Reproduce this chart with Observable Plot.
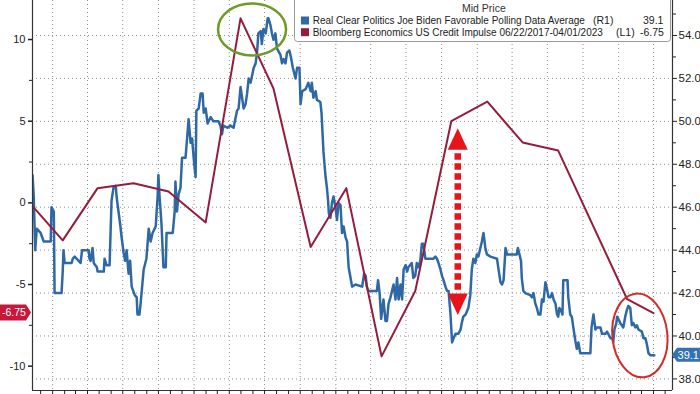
<!DOCTYPE html>
<html>
<head>
<meta charset="utf-8">
<script src="https://cdn.jsdelivr.net/npm/d3@7"></script>
<script src="https://cdn.jsdelivr.net/npm/@observablehq/plot@0.6"></script>
<style>
  body { margin: 0; background: #fff; }
  #chart { width: 700px; height: 394px; overflow: hidden; }
</style>
</head>
<body>
<div id="chart"></div>
<script>
// ---------------- DATA ----------------
// Real Clear Politics Joe Biden Favorable Polling Data Average (right axis, R1)
const bidenDates = [
"2018-11-10","2018-11-13","2018-11-17","2018-11-21","2018-12-01","2018-12-09","2018-12-27","2018-12-29",
"2019-01-04","2019-01-06","2019-01-24","2019-01-27","2019-01-29","2019-02-01","2019-02-19","2019-02-22",
"2019-02-27","2019-03-14","2019-03-18","2019-04-04","2019-04-06","2019-04-09","2019-04-14","2019-04-17",
"2019-04-25","2019-04-27","2019-05-13","2019-05-15","2019-05-20","2019-05-28","2019-05-31","2019-06-02",
"2019-06-07","2019-06-13","2019-06-15","2019-06-20","2019-06-25","2019-06-28","2019-07-03","2019-07-07",
"2019-07-11","2019-07-16","2019-07-20","2019-07-24","2019-08-01","2019-08-06","2019-08-08","2019-08-13",
"2019-08-16","2019-08-19","2019-08-24","2019-08-31","2019-09-06","2019-09-11","2019-09-16","2019-09-24",
"2019-09-29","2019-10-01","2019-10-04","2019-10-09","2019-10-14","2019-10-20","2019-10-22","2019-11-07",
"2019-11-12","2019-11-14","2019-11-18","2019-11-22","2019-11-27","2019-12-01","2019-12-10","2019-12-14",
"2019-12-18","2019-12-23","2019-12-27","2019-12-31","2020-01-05","2020-01-07","2020-01-13","2020-01-18",
"2020-01-23","2020-01-26","2020-01-31","2020-02-05","2020-02-13","2020-02-20","2020-03-04","2020-03-09",
"2020-03-13","2020-03-17","2020-03-27","2020-04-04","2020-04-12","2020-04-21","2020-04-25","2020-04-30",
"2020-05-04","2020-05-08","2020-05-13","2020-05-17","2020-05-21","2020-05-26","2020-06-03","2020-06-08",
"2020-06-12","2020-06-15","2020-06-21","2020-06-24","2020-06-28","2020-07-04","2020-07-09","2020-07-11",
"2020-07-16","2020-07-20","2020-07-24","2020-07-29","2020-08-02","2020-08-11","2020-08-15","2020-08-19",
"2020-08-24","2020-08-28","2020-09-03","2020-09-07","2020-09-12","2020-09-19","2020-09-23","2020-09-29",
"2020-10-02","2020-10-06","2020-10-15","2020-10-22","2020-10-28","2020-10-31","2020-11-04","2020-11-10",
"2020-11-13","2020-11-22","2020-11-25","2020-11-30","2020-12-05","2020-12-09","2020-12-12","2020-12-14",
"2020-12-18","2020-12-22","2020-12-26","2020-12-31","2021-01-04","2021-01-08","2021-01-13","2021-01-17",
"2021-01-21","2021-01-26","2021-01-30","2021-02-03","2021-02-08","2021-02-12","2021-02-21","2021-03-10",
"2021-03-15","2021-03-19","2021-03-22","2021-03-26","2021-04-17","2021-04-20","2021-04-24","2021-04-28",
"2021-05-04","2021-05-09","2021-05-13","2021-05-17","2021-05-22","2021-05-26","2021-05-30","2021-06-04",
"2021-06-08","2021-06-12","2021-06-17","2021-06-21","2021-06-25","2021-06-30","2021-07-04","2021-07-07",
"2021-07-16","2021-07-20","2021-07-25","2021-07-29","2021-08-02","2021-08-07","2021-08-11","2021-08-15",
"2021-08-20","2021-09-10","2021-09-15","2021-09-19","2021-09-23","2021-09-28","2021-10-02","2021-10-06",
"2021-10-11","2021-10-15","2021-10-19","2021-10-24","2021-10-28","2021-11-01","2021-11-06","2021-11-13",
"2021-11-19","2021-11-22","2021-11-26","2021-12-02","2021-12-09","2021-12-14","2021-12-18","2021-12-22",
"2021-12-27","2021-12-31","2022-01-04","2022-01-09","2022-01-13","2022-01-17","2022-01-22","2022-01-26",
"2022-02-04","2022-02-21","2022-02-25","2022-03-02","2022-03-06","2022-03-10","2022-03-15","2022-03-19",
"2022-04-13","2022-04-16","2022-04-20","2022-04-24","2022-04-26","2022-04-30","2022-05-05","2022-05-18",
"2022-05-22","2022-05-26","2022-05-31","2022-06-04","2022-06-08","2022-06-13","2022-06-17","2022-06-21",
"2022-06-26","2022-06-30","2022-07-04","2022-07-09","2022-07-13","2022-07-17","2022-07-22","2022-07-26",
"2022-07-29","2022-08-01","2022-08-05","2022-08-09","2022-08-11","2022-08-22","2022-08-24","2022-08-29",
"2022-09-02","2022-09-06","2022-09-11","2022-09-15","2022-09-19","2022-09-24","2022-10-20","2022-10-23",
"2022-10-28","2022-11-02","2022-11-06","2022-11-15","2022-11-19","2022-11-28","2022-12-02","2022-12-05",
"2022-12-11","2022-12-16","2022-12-18","2022-12-21","2022-12-26","2022-12-28","2022-12-31","2023-01-05",
"2023-01-09","2023-01-13","2023-01-18","2023-01-22","2023-01-26","2023-01-31","2023-02-04","2023-02-08",
"2023-02-13","2023-02-17","2023-02-21","2023-03-02","2023-03-06","2023-03-11","2023-03-15","2023-03-19",
"2023-03-24","2023-04-03"
];
const bidenFav = [
47.5,46.6,44.0,45.0,44.8,44.4,44.4,46.0,
45.8,42.0,42.0,43.0,44.0,43.4,43.4,43.6,
43.7,43.4,44.0,44.0,43.6,43.5,44.1,43.4,
43.2,43.0,43.0,43.6,43.3,43.3,45.1,46.3,
46.9,47.0,46.5,45.8,45.1,44.6,43.9,43.5,
44.0,42.9,43.5,42.3,41.9,41.8,41.0,41.0,
41.5,42.1,43.1,43.6,45.0,44.4,44.8,45.1,
46.5,47.5,46.5,45.2,43.2,43.2,44.8,44.8,
45.8,47.2,45.8,46.6,46.9,48.3,48.3,49.2,
50.1,49.0,49.2,48.3,47.4,50.5,50.6,51.3,
51.3,50.4,50.6,49.9,50.2,50.0,50.0,49.8,
49.4,49.8,49.7,49.8,49.7,50.5,50.6,51.6,
51.1,50.6,50.8,51.3,52.0,51.8,52.5,52.7,
53.3,54.1,54.2,53.6,54.3,54.1,54.8,54.8,
54.5,54.1,53.8,54.1,53.4,53.1,52.7,52.9,
52.7,53.2,53.3,53.0,52.5,52.0,52.5,52.5,
50.8,51.4,51.5,51.8,51.4,51.8,51.1,51.4,
51.0,50.9,50.4,48.6,47.5,46.9,46.3,45.7,
45.5,46.2,46.5,46.0,45.4,46.2,46.1,44.8,
45.1,44.6,44.4,43.2,42.7,42.3,42.4,42.3,
42.9,42.8,42.3,42.1,42.1,42.6,42.0,40.8,
41.7,40.7,40.7,41.5,41.8,42.1,42.4,41.7,
42.7,41.7,42.4,41.7,43.1,43.3,43.0,43.2,
43.4,42.7,42.8,43.4,43.2,43.5,44.3,44.3,
43.6,43.6,43.7,43.6,43.4,43.1,42.8,42.6,
42.3,42.1,42.1,41.0,39.7,39.9,40.1,40.1,
40.3,40.6,40.9,41.0,41.3,41.9,43.1,43.6,
43.4,43.8,43.7,44.1,44.4,44.8,44.1,43.8,
43.7,43.6,43.1,42.5,42.4,42.6,44.1,43.8,
43.8,44.1,43.8,43.5,42.7,42.1,42.0,41.9,
41.8,42.0,41.5,41.3,41.0,41.0,41.7,41.6,
42.5,42.2,41.8,41.8,42.0,41.7,41.5,41.0,
40.9,41.3,41.2,41.0,42.6,42.6,41.8,41.0,
40.9,40.4,39.8,39.4,39.7,39.2,39.2,40.4,
41.0,40.3,40.4,40.4,40.1,40.1,40.2,40.1,
39.9,39.9,39.7,40.3,40.6,40.9,40.8,40.6,
40.5,40.4,40.9,41.2,41.4,41.3,40.5,40.6,
40.4,40.5,40.3,40.2,39.9,39.9,39.6,39.2,
39.1,39.1
];

// Bloomberg Economics US Credit Impulse (left axis, L1)
const impulseDates = [
"2018-11-10","2019-01-27","2019-04-27","2019-07-29","2019-10-27","2020-01-31",
"2020-04-30","2020-07-24","2020-10-28","2021-01-28","2021-04-29","2021-07-25",
"2021-10-26","2022-01-27","2022-04-28","2022-07-29","2023-01-23","2023-04-01"
];
const impulseValues = [
-0.2,-2.3,0.9,1.2,0.7,-1.2,
11.3,7.0,-2.7,0.9,-9.4,-5.4,
5.0,6.2,3.7,3.2,-5.9,-6.75
];

// Axes
const leftTicks = [-10, -5, 0, 5, 10];
const leftMinorTicks = [-7.5, -2.5, 2.5, 7.5];
const rightTicks = [38, 40, 42, 44, 46, 48, 50, 52, 54];
const rightMinorTicks = [39, 41, 43, 45, 47, 49, 51, 53, 55];
const leftDomain = [-11.49, 12.39];
const rightDomain = [37.46, 55.63];
const xDomain = [new Date("2018-11-10"), new Date("2023-05-20")];

// Legend
const legendHeader = "Mid Price";
const seriesNames = [
  "Real Clear Politics Joe Biden Favorable Polling Data Average",
  "Bloomberg Economics US Credit Impulse 06/22/2017-04/01/2023"
];
const seriesAxes = ["(R1)", "(L1)"];
const lastValues = [39.1, -6.75];

// Annotations (in data units)
const greenRing = { date: "2020-05-31", fav: 54.26 };
const redRing = { date: "2023-02-26", fav: 40.0 };
const arrowMark = { date: "2021-11-13", top: 4.53, bottom: -6.9 };

// ---------------- STYLE ----------------
const BLUE = "#2e69a6";
const MAROON = "#961c3e";
const W = 700, H = 394, mL = 32, mR = 28, mT = 0, mB = 4;
const FONT = "'Liberation Sans', Arial, sans-serif";

// ---------------- BUILD ----------------
const toLeft = d3.scaleLinear(rightDomain, leftDomain);
const biden = bidenDates.map((d, i) => ({ date: new Date(d), value: toLeft(bidenFav[i]) }));
const impulse = impulseDates.map((d, i) => ({ date: new Date(d), value: impulseValues[i] }));
const quarters = d3.utcMonth.every(3).range(xDomain[0], xDomain[1]);
const months = d3.utcMonth.range(xDomain[0], xDomain[1]);

const gridStyle = { stroke: "#8f8f8f", strokeOpacity: 1, strokeWidth: 1, strokeDasharray: "1,3" };

const plot = Plot.plot({
  width: W, height: H,
  marginLeft: mL, marginRight: mR, marginTop: mT, marginBottom: mB,
  style: { fontFamily: FONT, fontSize: "11px", color: "#222", background: "#fff", overflow: "visible" },
  x: { type: "utc", domain: xDomain, axis: null },
  y: { domain: leftDomain, axis: null },
  marks: [
    Plot.gridY(rightTicks.map(toLeft), gridStyle),
    Plot.gridX(quarters, gridStyle),
    Plot.line(biden, { x: "date", y: "value", stroke: BLUE, strokeWidth: 2.5, clip: true }),
    Plot.line(impulse, { x: "date", y: "value", stroke: MAROON, strokeWidth: 2, clip: true }),
    Plot.ruleX([xDomain[0], xDomain[1]], { stroke: "#333", strokeWidth: 1.2 }),
    Plot.ruleY([leftDomain[0]], { stroke: "#333", strokeWidth: 1.2 }),
    Plot.axisY(leftTicks, { anchor: "left", tickSize: 4, tickPadding: 3, tickFormat: d => String(d), fontSize: 11, label: null, strokeWidth: 1.5 }),
    Plot.axisY(leftMinorTicks, { anchor: "left", tickSize: 3, tickFormat: () => "", label: null }),
    Plot.axisY(rightTicks.map(toLeft), { anchor: "right", tickSize: 4, tickPadding: 2, tickFormat: v => toLeft.invert(v).toFixed(1), fontSize: 11.5, label: null }),
    Plot.axisY(rightMinorTicks.map(toLeft), { anchor: "right", tickSize: 3, tickFormat: () => "", label: null }),
    Plot.axisX(months, { anchor: "bottom", tickSize: 4, tickFormat: () => "", label: null })
  ]
});

document.getElementById("chart").appendChild(plot);

// scales mirroring the plot's
const xS = d3.scaleUtc(xDomain, [mL, W - mR]);
const yS = d3.scaleLinear(leftDomain, [H - mB, mT]);
const svg = d3.select(plot);
const ann = svg.append("g");

// green ring around peak
ann.append("ellipse")
  .attr("cx", xS(new Date(greenRing.date))).attr("cy", yS(toLeft(greenRing.fav)))
  .attr("rx", 34).attr("ry", 26)
  .attr("fill", "none").attr("stroke", "#6f9a28").attr("stroke-width", 2.5);

// red ring around latest values
const rcx = xS(new Date(redRing.date)), rcy = yS(toLeft(redRing.fav));
ann.append("ellipse")
  .attr("cx", rcx).attr("cy", rcy).attr("rx", 27.5).attr("ry", 42)
  .attr("transform", `rotate(-6 ${rcx} ${rcy})`)
  .attr("fill", "none").attr("stroke", "#d42a2a").attr("stroke-width", 2);

// red dotted double arrow
const ax = xS(new Date(arrowMark.date));
const yTop = yS(arrowMark.top), yBot = yS(arrowMark.bottom);
const RED = "#e8141c";
ann.append("path").attr("d", `M${ax},${yTop} L${ax - 10},${yTop + 21.5} L${ax + 10},${yTop + 21.5} Z`).attr("fill", RED);
ann.append("path").attr("d", `M${ax},${yBot} L${ax - 10},${yBot - 21.5} L${ax + 10},${yBot - 21.5} Z`).attr("fill", RED);
ann.append("line")
  .attr("x1", ax).attr("x2", ax).attr("y1", yTop + 25).attr("y2", yBot - 23)
  .attr("stroke", RED).attr("stroke-width", 6.5).attr("stroke-dasharray", "6.5,3.5");

// last value tags
const tagL = yS(lastValues[1]);
ann.append("path")
  .attr("d", `M0,${tagL - 8} L26,${tagL - 8} L31,${tagL} L26,${tagL + 8} L0,${tagL + 8} Z`)
  .attr("fill", "#c8173a");
ann.append("text").attr("x", 14).attr("y", tagL + 3.8).attr("text-anchor", "middle")
  .attr("fill", "#fff").attr("font-size", 10.5).attr("font-family", FONT).text(String(lastValues[1]));

const tagR = yS(toLeft(lastValues[0]));
ann.append("path")
  .attr("d", `M${W - mR},${tagR} L${W - mR + 5},${tagR - 7} L${W},${tagR - 7} L${W},${tagR + 7} L${W - mR + 5},${tagR + 7} Z`)
  .attr("fill", "#3572b5");
ann.append("text").attr("x", W - 1).attr("y", tagR + 4).attr("text-anchor", "end")
  .attr("fill", "#fff").attr("font-size", 11).attr("font-family", FONT).text(lastValues[0].toFixed(1));

// legend box
const lg = svg.append("g").attr("font-family", FONT).attr("fill", "#222").attr("text-anchor", "start");
lg.append("rect").attr("x", 294.5).attr("y", -6).attr("width", 376).attr("height", 47.5)
  .attr("rx", 3).attr("fill", "#fff").attr("stroke", "#9a9a9a");
lg.append("text").attr("x", 462).attr("y", 12).attr("font-size", 10.5).attr("fill", "#333").attr("text-anchor", "start")
  .text(legendHeader);
const rowY = [24.3, 36];
const rowColors = [BLUE, MAROON];
const axisX = [593, 616];
const valX = [643, 640];
rowY.forEach((yy, i) => {
  lg.append("rect").attr("x", 301).attr("y", yy - 7.8).attr("width", 8).attr("height", 8).attr("fill", rowColors[i]);
  lg.append("text").attr("x", 312.7).attr("y", yy).attr("font-size", 10).attr("text-anchor", "start").text(seriesNames[i]);
  lg.append("text").attr("x", axisX[i]).attr("y", yy).attr("font-size", 10.5).attr("text-anchor", "start").text(seriesAxes[i]);
  lg.append("text").attr("x", valX[i]).attr("y", yy).attr("font-size", 10.5).attr("text-anchor", "start").text(String(lastValues[i]));
});
</script>
</body>
</html>
